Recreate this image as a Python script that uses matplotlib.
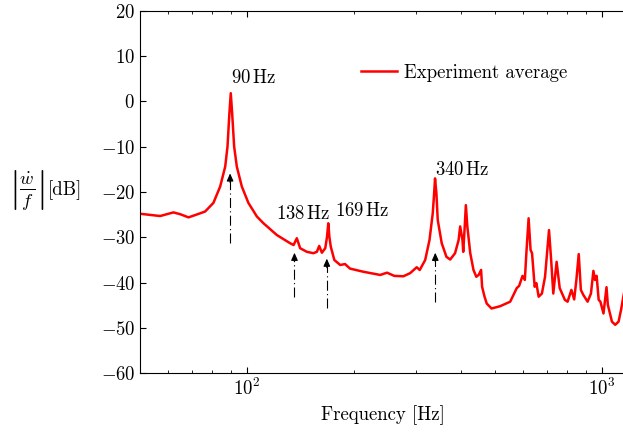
import matplotlib
matplotlib.use("Agg")
import matplotlib.pyplot as plt
import numpy as np

plt.rcParams['font.family'] = 'serif'
plt.rcParams['font.serif'] = ['cmr10']
plt.rcParams['mathtext.fontset'] = 'cm'
plt.rcParams['axes.formatter.use_mathtext'] = True
plt.rcParams['font.size'] = 13.5

# averaged spectrum
freq = [50, 57.0, 62.1, 64.9, 68.5, 73.9, 76.3, 80.5, 84.1, 86.9, 88.2, 89.3, 90.1,
        90.9, 92.1, 93.7, 96.8, 101.0, 106.7, 111.4, 121.5, 132.4, 135.4, 138.3,
        141.3, 147.6, 154.0, 157.5, 159.9, 162.7, 166.3, 168.2, 169.6, 170.8,
        172.4, 176.4, 183.2, 189.1, 195.3, 213.1, 237.5, 248.3, 260, 276, 288.5,
        301, 307, 318, 327, 334, 337, 339, 342, 345, 354, 365, 374, 386, 395, 399,
        405, 407, 411, 414, 418, 426, 435, 443, 450, 457, 460, 467, 474, 489, 517,
        552, 576, 585, 598, 607, 613, 622, 630, 636, 647, 654, 664, 678, 692, 710,
        720, 730, 746, 761, 787, 801, 821, 836, 848, 861, 873, 887, 912, 932, 947,
        957, 967, 980, 991, 1011, 1031, 1040, 1068, 1091, 1115, 1133, 1150, 1170]
db = [-24.8, -25.3, -24.5, -24.9, -25.6, -24.7, -24.3, -22.4, -18.8, -14.4, -10.0, -2.6, 1.8,
      -2.6, -10.0, -14.4, -18.8, -22.4, -25.4, -26.9, -29.5, -31.3, -31.7, -30.2,
      -32.4, -33.2, -33.5, -33.2, -31.9, -33.4, -32.4, -29.9, -26.9, -29.9,
      -32.1, -35.0, -36.1, -35.9, -36.9, -37.6, -38.3, -37.8, -38.5, -38.6, -37.9,
      -36.6, -37.2, -35.0, -30.6, -24.7, -20.3, -17.0, -20.3, -26.2, -31.3, -34.3, -34.9, -33.5, -30.6, -27.6,
      -30.6, -33.2, -27.6, -22.9, -27.6, -33.5, -37.2, -38.7, -38.3, -37.2, -40.9, -43.0, -44.6, -45.7, -45.2,
      -44.2, -41.2, -40.7, -38.5, -39.4, -33.5, -25.8, -32.8, -33.5, -40.9, -40.1, -43.1, -42.4, -38.7, -28.4,
      -35.0, -42.4, -35.4, -41.2, -43.8, -44.2, -41.6, -43.7, -39.4, -33.7, -41.6, -42.7, -44.2, -42.4, -37.4,
      -39.4, -38.5, -43.8, -44.2, -46.8, -41.0, -44.9, -48.6, -49.3, -48.6, -46.0, -43.1, -40.0]

peak_labels = ["90$\\,$Hz", "138$\\,$Hz", "169$\\,$Hz", "340$\\,$Hz"]
arrow_freq = [89.7, 136.2, 168.0, 339.5]
label_pos = [(90.5, 5.2), (121, -24.9), (177, -24.2), (339.5, -15.1)]
arrow_tip = [-15.9, -33.4, -34.7, -33.4]
arrow_base = [-31.3, -43.1, -45.7, -44.2]

fig = plt.figure(figsize=(6.23, 4.37), dpi=100)
ax = fig.add_axes([140/623, 1 - 373.3/437, (626 - 140)/623, (373.3 - 10.7)/437])

ax.plot(freq, db, color='red', lw=1.8, label='Experiment average')

for lab, f, (lx, ly), tip, base in zip(peak_labels, arrow_freq, label_pos, arrow_tip, arrow_base):
    ax.plot([f, f], [base, tip - 1.0], color='k', lw=0.8, ls=(0, (9, 3, 1, 3)))
    ax.annotate('', xy=(f, tip), xytext=(f, tip - 2.0),
                arrowprops=dict(arrowstyle='-|>,head_length=0.45,head_width=0.2',
                                mutation_scale=10, color='k', lw=0.8, shrinkA=0, shrinkB=0))
    ax.text(lx, ly, lab, ha='left', va='center')

ax.set_xscale('log')
ax.set_xlim(50, 1170)
ax.set_ylim(-60, 20)
ax.set_yticks(np.arange(-60, 21, 10))
ax.tick_params(which='both', direction='in', top=True, right=False)
ax.tick_params(which='major', length=4)
ax.tick_params(which='minor', length=2.5)
ax.set_xlabel('Frequency [Hz]')

# y label: the fraction is set larger than the unit, as in display math
fig.text(27/623, 1 - 190.5/437, r'$\left|\frac{\dot{w}}{f}\right|$', fontsize=19,
         ha='center', va='center')
fig.text(48/623, 1 - 190/437, '[dB]', ha='left', va='center')

ax.legend(loc='upper left', bbox_to_anchor=(0.455, 0.853), frameon=False,
          handlelength=1.9, borderpad=0, borderaxespad=0, handletextpad=0.4)

fig.savefig('out.png', dpi=100)
